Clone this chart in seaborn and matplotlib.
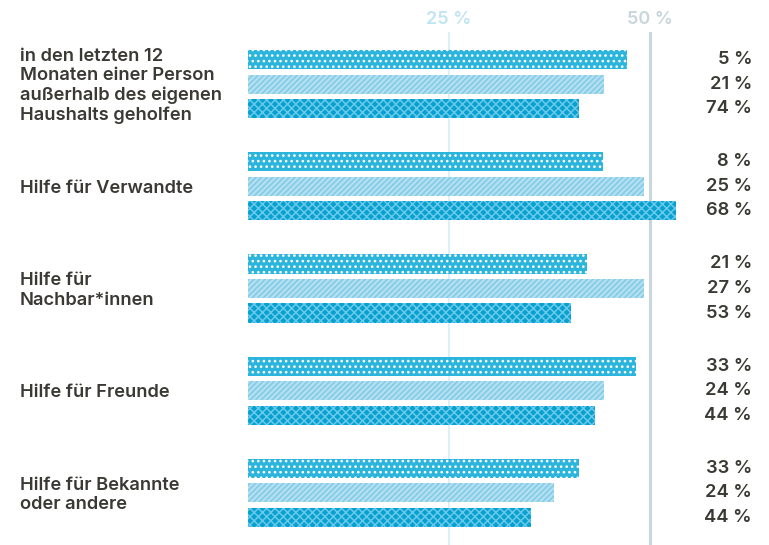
import numpy as np
import pandas as pd
import matplotlib
matplotlib.use("Agg")
import matplotlib.pyplot as plt
import matplotlib.transforms as mtransforms
import seaborn as sns

# ---- data ----
categories = [
    "in den letzten 12\nMonaten einer Person\naußerhalb des eigenen\nHaushalts geholfen",
    "Hilfe für Verwandte",
    "Hilfe für\nNachbar*innen",
    "Hilfe für Freunde",
    "Hilfe für Bekannte\noder andere",
]
series = ["Gruppe 1", "Gruppe 2", "Gruppe 3"]

# bar lengths on the 0-50 % axis
bar_1 = [47.2, 44.2, 42.2, 48.3, 41.2]
bar_2 = [44.3, 49.3, 49.3, 44.3, 38.1]
bar_3 = [41.2, 53.2, 40.2, 43.2, 35.2]

# printed labels on the right
label_1 = [5, 8, 21, 33, 33]
label_2 = [21, 25, 27, 24, 24]
label_3 = [74, 68, 53, 44, 44]

ticks = [25, 50]
tick_labels = ["25 %", "50 %"]

# ---- styling ----
sns.set_style("white")
plt.rcParams["font.family"] = ["Inter", "DejaVu Sans"]
plt.rcParams["hatch.linewidth"] = 1.1

text_col = "#3a3934"
fills = ["#2bb4dc", "#b4dff0", "#05a2d0"]
hatch_cols = ["#ffffff", "#7fcbe7", "#6cc8ea"]
hatches = ["...", "//////", "xxxx"]

df = pd.DataFrame({
    "category": categories * 3,
    "series": np.repeat(series, len(categories)),
    "value": bar_1 + bar_2 + bar_3,
})
labels = [label_1, label_2, label_3]

W, H = 769, 545
fig = plt.figure(figsize=(W / 100, H / 100), dpi=100)
ax = fig.add_axes([248 / W, 0, 1 - 248 / W, (H - 32) / H])

sns.barplot(data=df, x="value", y="category", hue="series", orient="h",
            palette=fills, saturation=1, width=0.72, gap=0.22,
            linewidth=0, legend=False, ax=ax)

for i, cont in enumerate(ax.containers):
    for bar in cont:
        bar.set_hatch(hatches[i])
        bar.set_edgecolor(hatch_cols[i])
        bar.set_linewidth(0)

ax.set_xlim(0, (W - 248) / 8.04)
ax.set_ylim(4.51, -0.51)

ax.axvline(25, color="#d6edf6", lw=1.2, zorder=0)
ax.axvline(50, color="#c9d6db", lw=2.2, zorder=0)

ax.xaxis.set_ticks_position("top")
ax.set_xticks(ticks)
ax.set_xticklabels(tick_labels, fontsize=13, fontweight="semibold")
ax.tick_params(axis="x", length=0, pad=3)
for lab, c in zip(ax.get_xticklabels(), ["#bfe4f2", "#c7d6dc"]):
    lab.set_color(c)
ax.tick_params(axis="y", left=False, labelleft=False)
ax.set_xlabel("")
ax.set_ylabel("")
sns.despine(ax=ax, left=True, bottom=True, top=True, right=True)

trans = mtransforms.blended_transform_factory(fig.transFigure, ax.transData)

# category labels on the left
for pos, cat in zip(ax.get_yticks(), categories):
    ax.text(20 / W, pos + 0.02, cat, transform=trans, ha="left", va="center",
            fontsize=13.2, fontweight="semibold", color=text_col,
            linespacing=1.17, clip_on=False)

# percentage labels on the right
for i, cont in enumerate(ax.containers):
    for bar, val in zip(cont, labels[i]):
        yc = bar.get_y() + bar.get_height() / 2
        ax.text(752 / W, yc, f"{val} %", transform=trans, ha="right",
                va="center", fontsize=13.2, fontweight="semibold",
                color=text_col, clip_on=False)

fig.savefig("out.png", dpi=100)
